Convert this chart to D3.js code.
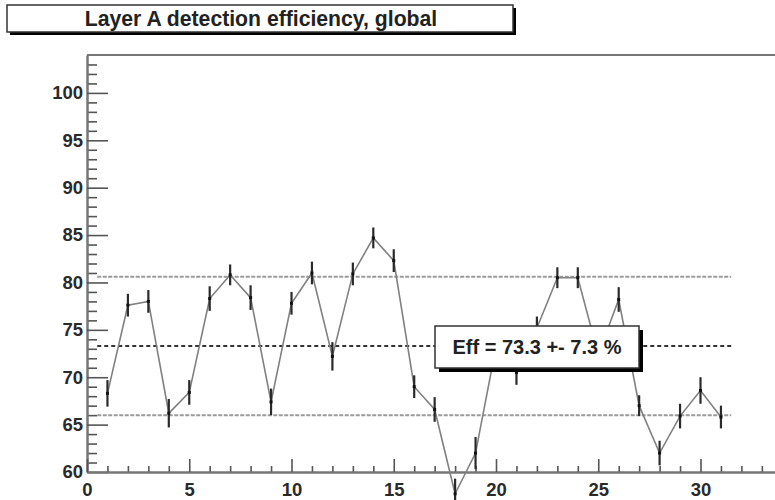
<!DOCTYPE html>
<html>
<head>
<meta charset="utf-8">
<script src="https://cdn.jsdelivr.net/npm/d3@7"></script>
<style>
  body { margin: 0; background: #fff; }
  svg { display: block; }
  text { font-family: "Liberation Sans", Arial, Helvetica, sans-serif; font-weight: bold; }
</style>
</head>
<body>
<svg id="chart" width="775" height="500"></svg>
<script>
// Layer index and measured detection efficiency (%) with its uncertainty
const layerIndex = [1, 2, 3, 4, 5, 6, 7, 8, 9, 10, 11, 12, 13, 14, 15, 16,
                    17, 18, 19, 20, 21, 22, 23, 24, 25, 26, 27, 28, 29, 30, 31];
const efficiency = [68.3, 77.6, 78.0, 66.2, 68.4, 78.3, 80.8, 78.4, 67.4, 77.8,
                    81.0, 72.2, 80.9, 84.7, 82.3, 69.0, 66.6, 57.7, 62.0, 73.2,
                    70.5, 75.2, 80.5, 80.5, 72.4, 78.2, 67.0, 62.0, 65.9, 68.6, 65.8];
const efficiencyErr = [1.4, 1.2, 1.2, 1.5, 1.3, 1.3, 1.1, 1.3, 1.4, 1.2,
                       1.2, 1.5, 1.2, 1.1, 1.2, 1.2, 1.3, 1.6, 1.7, 1.3,
                       1.3, 1.2, 1.1, 1.1, 1.3, 1.3, 1.1, 1.3, 1.3, 1.4, 1.2];

// Global efficiency summary
const effMean = 73.3;
const effSigma = 7.3;

// Axis ranges and tick values
const xDomain = [0, 34];
const yDomain = [60, 104];
const xMajorTicks = [0, 5, 10, 15, 20, 25, 30];
const yMajorTicks = [60, 65, 70, 75, 80, 85, 90, 95, 100];

const titleText = "Layer A detection efficiency, global";

const svg = d3.select("#chart");

const x = d3.scaleLinear().domain(xDomain).range([87, 782.3]);
const y = d3.scaleLinear().domain(yDomain).range([472, 55]);

const xMinorTicks = d3.range(xDomain[0], xDomain[1]).filter(v => !xMajorTicks.includes(v));
const yMinorTicks = d3.range(yDomain[0], yDomain[1]).filter(v => !yMajorTicks.includes(v));

// Frame top and right edges (right edge lies just beyond the canvas)
svg.append("line")
  .attr("x1", x(xDomain[0])).attr("x2", x(xDomain[1]))
  .attr("y1", y(yDomain[1])).attr("y2", y(yDomain[1]))
  .attr("stroke", "#777").attr("stroke-width", 2);
svg.append("line")
  .attr("x1", x(xDomain[1])).attr("x2", x(xDomain[1]))
  .attr("y1", y(yDomain[1])).attr("y2", y(yDomain[0]))
  .attr("stroke", "#777").attr("stroke-width", 2);

function styleAxis(g) {
  g.select(".domain").attr("stroke", "#777").attr("stroke-width", 2);
  g.selectAll(".tick line").attr("stroke", "#555").attr("stroke-width", 1.6);
  g.selectAll(".tick text")
    .attr("fill", "#2a2a2a")
    .style("font-size", "18.5px")
    .style("font-family", '"Liberation Sans", Arial, sans-serif')
    .style("font-weight", "bold");
}

// Y axis: minor then major ticks, drawn inside the frame
svg.append("g")
  .attr("transform", `translate(${x(xDomain[0])},0)`)
  .call(d3.axisLeft(y).tickValues(yMinorTicks).tickSize(-10).tickSizeOuter(0).tickFormat(""))
  .call(styleAxis);
svg.append("g")
  .attr("transform", `translate(${x(xDomain[0])},0)`)
  .call(d3.axisLeft(y).tickValues(yMajorTicks).tickSize(-21).tickSizeOuter(0)
        .tickPadding(4).tickFormat(d3.format("d")))
  .call(styleAxis);

// X axis
svg.append("g")
  .attr("transform", `translate(0,${y(yDomain[0])})`)
  .call(d3.axisBottom(x).tickValues(xMinorTicks).tickSize(-6).tickSizeOuter(0).tickFormat(""))
  .call(styleAxis);
svg.append("g")
  .attr("transform", `translate(0,${y(yDomain[0])})`)
  .call(d3.axisBottom(x).tickValues(xMajorTicks).tickSize(-13).tickSizeOuter(0)
        .tickPadding(11).tickFormat(d3.format("d")))
  .call(styleAxis);

// Mean and +-1 sigma reference lines
const refLines = [
  { v: effMean + effSigma, color: "#9a9a9a", dash: "4,1.5" },
  { v: effMean,            color: "#333",    dash: "4,3" },
  { v: effMean - effSigma, color: "#9a9a9a", dash: "4,1.5" }
];
svg.append("g").selectAll("line")
  .data(refLines)
  .join("line")
  .attr("x1", x(layerIndex[0] - 0.5))
  .attr("x2", x(layerIndex[layerIndex.length - 1] + 0.5))
  .attr("y1", d => y(d.v)).attr("y2", d => y(d.v))
  .attr("stroke", d => d.color)
  .attr("stroke-width", 2)
  .attr("stroke-dasharray", d => d.dash);

// Efficiency per layer: connecting line, error bars and markers
const points = layerIndex.map((l, i) => ({ l, v: efficiency[i], e: efficiencyErr[i] }));

svg.append("path")
  .datum(points)
  .attr("fill", "none")
  .attr("stroke", "#808080")
  .attr("stroke-width", 1.6)
  .attr("d", d3.line().x(d => x(d.l)).y(d => y(d.v)));

svg.append("g").selectAll("line")
  .data(points)
  .join("line")
  .attr("x1", d => x(d.l)).attr("x2", d => x(d.l))
  .attr("y1", d => y(d.v - d.e)).attr("y2", d => y(d.v + d.e))
  .attr("stroke", "#2a2a2a")
  .attr("stroke-width", 2.2);

svg.append("g").selectAll("rect")
  .data(points)
  .join("rect")
  .attr("x", d => x(d.l) - 1.5).attr("y", d => y(d.v) - 1.5)
  .attr("width", 3).attr("height", 3)
  .attr("fill", "#111");

// Shadowed text box helper
function shadowBox(x0, y0, w, h, shadow) {
  const g = svg.append("g");
  g.append("rect")
    .attr("x", x0 + shadow).attr("y", y0 + shadow)
    .attr("width", w).attr("height", h)
    .attr("fill", "#000");
  g.append("rect")
    .attr("x", x0).attr("y", y0)
    .attr("width", w).attr("height", h)
    .attr("fill", "#fff")
    .attr("stroke", "#333")
    .attr("stroke-width", 1.5);
  return g;
}

// Efficiency summary box
const statBox = shadowBox(435, 326, 204, 42, 4);
statBox.append("text")
  .attr("x", 537).attr("y", 354)
  .attr("text-anchor", "middle")
  .attr("fill", "#222")
  .style("font-size", "20px")
  .text(`Eff = ${effMean.toFixed(1)} +- ${effSigma.toFixed(1)} %`);

// Title box
const titleBox = shadowBox(7, 5, 506, 27, 3);
titleBox.append("text")
  .attr("x", 261).attr("y", 26)
  .attr("text-anchor", "middle")
  .attr("fill", "#222")
  .style("font-size", "21.2px")
  .text(titleText);
</script>
</body>
</html>
